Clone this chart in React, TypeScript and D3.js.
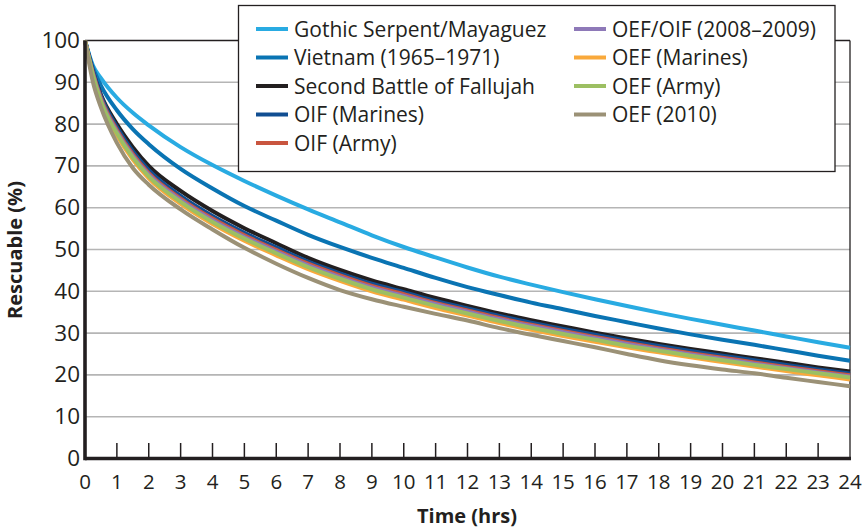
import React from "react";
import * as d3 from "d3";

const hours = [0, 0.25, 0.5, 1, 1.5, 2, 3, 4, 5, 6, 7, 8, 9, 10, 11, 12, 13, 14, 15, 16, 17, 18, 19, 20, 21, 22, 23, 24];

const gothicSerpent = [100, 94, 91, 86.3, 82.7, 79.7, 74.5, 70.2, 66.4, 62.9, 59.6, 56.5, 53.4, 50.6, 48.1, 45.7, 43.5, 41.6, 39.8, 38.1, 36.5, 34.9, 33.4, 32.0, 30.6, 29.2, 27.8, 26.5];
const vietnam = [100, 93.5, 89.2, 83.3, 78.8, 75.2, 69.3, 64.6, 60.4, 56.9, 53.5, 50.6, 48, 45.6, 43.2, 41.0, 39.1, 37.3, 35.7, 34.1, 32.6, 31.1, 29.7, 28.4, 27.2, 25.9, 24.6, 23.4];
const fallujah = [100, 92.5, 87, 80, 74.5, 70, 64, 59.2, 55.1, 51.5, 48, 45.1, 42.6, 40.5, 38.4, 36.5, 34.7, 33.1, 31.6, 30.1, 28.7, 27.4, 26.2, 25.1, 24, 22.9, 21.8, 20.8];
const oifMarines = [100, 92.7, 86.8, 79.3, 73.5, 69, 62.8, 58, 54, 50.5, 47.1, 44.3, 41.8, 39.8, 37.7, 35.9, 34.1, 32.5, 31.0, 29.6, 28.2, 26.9, 25.7, 24.6, 23.5, 22.4, 21.3, 20.3];
const oifArmy = [100, 92.2, 86.2, 78.6, 72.8, 68.3, 62.2, 57.4, 53.4, 49.9, 46.6, 43.8, 41.3, 39.3, 37.2, 35.4, 33.6, 32.0, 30.5, 29.1, 27.7, 26.4, 25.2, 24.1, 23.0, 21.9, 20.9, 19.9];
const oefOif = [100, 91.9, 85.8, 78.2, 72.4, 67.9, 61.8, 57.0, 53.0, 49.5, 46.2, 43.4, 40.9, 38.9, 36.9, 35.1, 33.3, 31.7, 30.2, 28.8, 27.4, 26.1, 24.9, 23.8, 22.7, 21.6, 20.6, 19.6];
const oefMarines = [100, 91.2, 85.0, 77.3, 71.5, 67.0, 60.9, 56.1, 52.1, 48.6, 45.3, 42.5, 40.0, 38.0, 36.0, 34.2, 32.4, 30.8, 29.3, 27.9, 26.6, 25.4, 24.2, 23.1, 22.0, 20.9, 19.9, 18.9];
const oefArmy = [100, 91.6, 85.4, 77.8, 72.0, 67.5, 61.4, 56.6, 52.6, 49.1, 45.8, 43.0, 40.5, 38.5, 36.5, 34.7, 32.9, 31.3, 29.8, 28.4, 27.0, 25.8, 24.6, 23.5, 22.4, 21.4, 20.4, 19.4];
const oef2010 = [100, 90, 84, 75.5, 69.5, 65.5, 59.6, 54.8, 50.4, 46.6, 43.2, 40.3, 38.1, 36.3, 34.6, 33.0, 31.2, 29.6, 28.1, 26.6, 25.0, 23.5, 22.3, 21.3, 20.4, 19.3, 18.3, 17.3];

const seriesNames = [
  "Gothic Serpent/Mayaguez",
  "Vietnam (1965–1971)",
  "Second Battle of Fallujah",
  "OIF (Marines)",
  "OIF (Army)",
  "OEF/OIF (2008–2009)",
  "OEF (Marines)",
  "OEF (Army)",
  "OEF (2010)",
];
const seriesValues = [gothicSerpent, vietnam, fallujah, oifMarines, oifArmy, oefOif, oefMarines, oefArmy, oef2010];
const seriesColors = ["#29abe2", "#0a74b3", "#231f20", "#114e92", "#c9553f", "#8e79b8", "#f9a93b", "#9cbf62", "#9b9176"];

const xTicks = d3.range(0, 25);
const yTicks = d3.range(0, 101, 10);

const W = 866;
const H = 532;
const FONT = "'Open Sans', 'Noto Sans', sans-serif";

export default function App() {
  const x = d3.scaleLinear().domain([0, 24]).range([85, 850]);
  const y = d3.scaleLinear().domain([0, 100]).range([458.5, 40.5]);
  const line = d3
    .line<number>()
    .x((_, i) => x(hours[i]))
    .y((d) => y(d))
    .curve(d3.curveMonotoneX);

  const legendRows = 5;
  const legendColX = [256, 574];
  const legendRowY = (r: number) => 29 + r * 28.5;

  return (
    <svg width={W} height={H} style={{ position: "absolute", left: 0, top: 0, background: "#fff" }}>
      <rect x={0} y={0} width={W} height={H} fill="#fff" />
      {yTicks.filter((t) => t > 0 && t < 100).map((t) => (
        <line key={t} x1={x(0)} x2={x(24)} y1={y(t)} y2={y(t)} stroke="#b5b5b5" strokeWidth={1.6} />
      ))}
      <line x1={x(0)} x2={x(24)} y1={y(100)} y2={y(100)} stroke="#231f20" strokeWidth={1.3} />
      <line x1={x(24)} x2={x(24)} y1={y(100)} y2={y(0)} stroke="#231f20" strokeWidth={1.3} />
      {seriesValues.map((vals, i) => (
        <path key={i} d={line(vals) || ""} fill="none" stroke={seriesColors[i]} strokeWidth={4} strokeLinejoin="round" />
      ))}
      {xTicks.filter((t) => t > 0 && t < 24).map((t) => (
        <line key={t} x1={x(t)} x2={x(t)} y1={443} y2={y(0)} stroke="#231f20" strokeWidth={1.5} />
      ))}
      <line x1={x(0)} x2={x(24) + 1} y1={y(0)} y2={y(0)} stroke="#231f20" strokeWidth={3.6} />
      <line x1={x(0)} x2={x(0)} y1={y(100)} y2={y(0) + 1.8} stroke="#231f20" strokeWidth={3.6} />
      {xTicks.map((t) => (
        <text key={t} x={x(t)} y={489} textAnchor="middle" fontFamily={FONT} fontSize={20.5} fill="#231f20">
          {t}
        </text>
      ))}
      {yTicks.map((t) => (
        <text key={t} x={80} y={y(t) + 7.5} textAnchor="end" fontFamily={FONT} fontSize={22.5} fill="#231f20">
          {t}
        </text>
      ))}
      <text x={467} y={523} textAnchor="middle" fontFamily={FONT} fontSize={20} fontWeight="bold" fill="#231f20">
        Time (hrs)
      </text>
      <text
        transform={`translate(22, ${250}) rotate(-90)`}
        textAnchor="middle"
        fontFamily={FONT}
        fontSize={20}
        fontWeight="bold"
        fill="#231f20"
      >
        Rescuable (%)
      </text>
      <rect x={238.5} y={5.5} width={596.5} height={166} fill="#fff" stroke="#231f20" strokeWidth={1.3} />
      {seriesNames.map((name, i) => {
        const col = Math.floor(i / legendRows);
        const row = i % legendRows;
        const lx = legendColX[col];
        const ly = legendRowY(row);
        return (
          <g key={name}>
            <line x1={lx} x2={lx + 32} y1={ly} y2={ly} stroke={seriesColors[i]} strokeWidth={4} />
            <text x={lx + 38} y={ly + 7.5} fontFamily={FONT} fontSize={21} fill="#231f20">
              {name}
            </text>
          </g>
        );
      })}
    </svg>
  );
}
